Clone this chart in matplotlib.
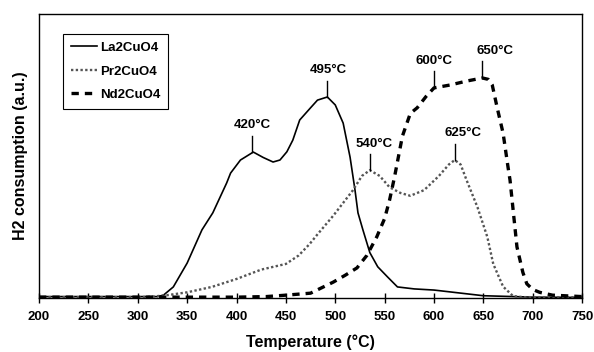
import matplotlib
matplotlib.use("Agg")
import matplotlib.pyplot as plt

plt.rcParams['font.family'] = ['Liberation Sans', 'DejaVu Sans']
plt.rcParams['font.weight'] = 'bold'

# TPR curves (temperature in °C, H2 consumption in a.u.)
la_T = [200, 250, 300, 320, 326, 336, 350, 365, 376, 390, 394, 404, 417, 427, 437, 444, 451, 457, 464,
        475, 482, 492, 500, 508, 515, 520, 523, 528, 535, 543, 553, 563, 580, 600, 620, 650, 700, 750]
la_y = [0.5, 0.5, 0.5, 0.5, 1, 3.9, 12.3, 24, 30, 40.5, 44, 48.6, 51.4, 49.5, 47.9, 48.6, 51.5, 55.6, 62.7,
        67, 69.7, 70.8, 68, 61.6, 49.6, 38, 30, 24, 16, 11, 7.4, 3.9, 3.2, 2.8, 2, 0.8, 0.3, 0.2]

pr_T = [200, 250, 300, 315, 330, 350, 375, 400, 425, 450, 463, 474, 481, 498, 518, 527, 535, 545, 555,
        566, 576, 590, 605, 615, 621, 627, 633, 644, 654, 660, 670, 680, 690, 750]
pr_y = [0.3, 0.3, 0.3, 0.5, 1, 2, 3.9, 6.7, 10, 12, 15, 19, 22, 29, 38, 43, 45, 43, 39,
        37, 36, 38, 43, 47, 48.6, 47, 41.5, 32, 21.5, 12, 4, 0.7, 0.3, 0.3]

nd_T = [200, 300, 400, 430, 450, 475, 498, 510, 522, 532, 542, 550, 555, 560, 568, 576, 583, 592, 600,
        616, 633, 649, 655, 659, 664, 670, 675, 677, 684, 690, 694, 700, 707, 720, 750]
nd_y = [0.3, 0.3, 0.3, 0.5, 1, 1.7, 5.6, 8, 10.6, 15, 21.5, 28, 34.5, 42.6, 57, 65, 67, 71, 74,
        75, 76.4, 77.5, 77, 75, 67, 58, 46, 41.5, 18, 9, 5, 3, 2, 1, 0.5]

# peak labels
peak_T = [416, 492, 535, 600, 649, 621]
peak_y = [51.4, 70.8, 45, 74, 77.5, 48.6]
peak_dx = [0, 1, 4, 0, 13, 8]
peak_txt = ['420°C', '495°C', '540°C', '600°C', '650°C', '625°C']

fig = plt.figure(figsize=(5.94, 3.52), dpi=100)
ax = fig.add_axes([0.0657, 0.1534, 0.9143, 0.8066])

ax.plot(la_T, la_y, color='black', lw=1.2, label='La2CuO4')
ax.plot(pr_T, pr_y, color='#555555', lw=1.7, linestyle=(0, (1, 1)), label='Pr2CuO4')
ax.plot(nd_T, nd_y, color='black', lw=2.4, linestyle=(0, (2.2, 1.8)), label='Nd2CuO4')

for t, y, dx, s in zip(peak_T, peak_y, peak_dx, peak_txt):
    ax.plot([t, t], [y, y + 5.8], color='black', lw=1)
    ax.text(t + dx, y + 7.3, s, ha='center', va='bottom', fontsize=9.5, fontweight='bold')

ax.set_xlim(200, 750)
ax.set_ylim(0, 100)
ax.set_xticks(range(200, 751, 50))
ax.set_yticks([])
ax.tick_params(axis='x', direction='inout', length=7, width=1, labelsize=9.5, pad=6)
for sp in ax.spines.values():
    sp.set_linewidth(1)

ax.set_xlabel('Temperature (°C)', fontsize=11.5, fontweight='bold', labelpad=8)
ax.set_ylabel('H2 consumption (a.u.)', fontsize=11.5, fontweight='bold', labelpad=8)

leg = ax.legend(loc='upper left', bbox_to_anchor=(0.044, 0.93), borderaxespad=0, fancybox=False,
                edgecolor='black', fontsize=9.5, handlelength=2.0, handletextpad=0.2,
                labelspacing=0.85, borderpad=0.6, framealpha=1)
leg.get_frame().set_linewidth(0.8)
for t in leg.get_texts():
    t.set_fontweight('bold')

fig.savefig('out.png', dpi=100)
